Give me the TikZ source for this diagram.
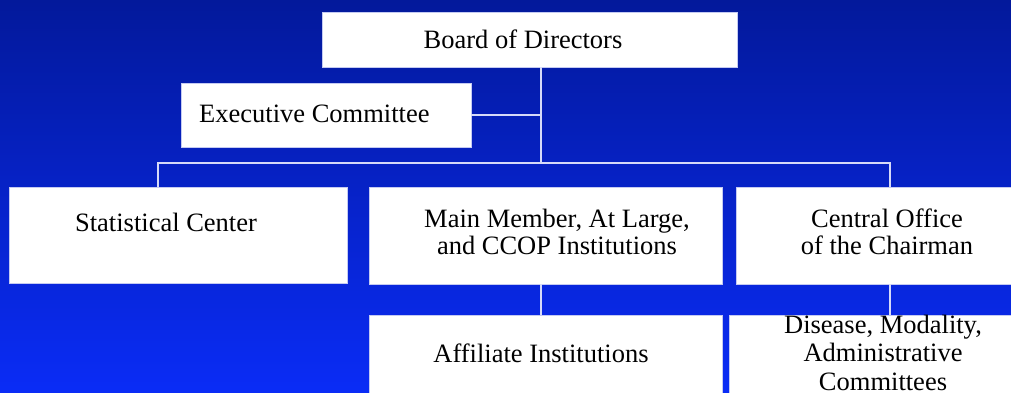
\documentclass[tikz,border=0pt]{standalone}
\usepackage{fontspec}
\setmainfont{Liberation Serif}
\definecolor{bgtop}{RGB}{3,25,155}
\definecolor{bgbot}{RGB}{10,44,246}
\definecolor{conn}{RGB}{214,218,248}
\definecolor{boxedge}{RGB}{196,202,242}
\begin{document}
\begin{tikzpicture}[x=1pt,y=-1pt,
  orgbox/.style={draw=boxedge,fill=white,line width=0.8pt,inner sep=0pt,rectangle},
  lbl/.style={inner sep=0pt,text=black,align=center,font=\fontsize{26.5}{27}\selectfont},
  link/.style={draw=conn,line width=1.3pt}]
\useasboundingbox (0,0) rectangle (1011,392);
\shade[top color=bgtop,bottom color=bgbot] (0,0) rectangle (1011,392);
\clip (0,0) rectangle (1011,392);
% boxes
\node[orgbox,minimum width=415pt,minimum height=55pt] (board) at (529.5,39.5) {};
\node[orgbox,minimum width=290pt,minimum height=64pt] (exec) at (326,115) {};
\node[orgbox,minimum width=338pt,minimum height=96pt] (stat) at (178,235) {};
\node[orgbox,minimum width=353pt,minimum height=97pt] (main) at (545.5,235.5) {};
\node[orgbox,minimum width=284pt,minimum height=97pt] (central) at (878,235.5) {};
\node[orgbox,minimum width=353pt,minimum height=85pt] (affil) at (545.5,357.5) {};
\node[orgbox,minimum width=291pt,minimum height=85pt] (disease) at (874.5,357.5) {};
% texts
\node[lbl] (tboard) at (523,39) {Board of Directors};
\node[lbl,anchor=west] (texec) at (199,114) {Executive Committee};
\node[lbl] (tstat) at (166,222) {Statistical Center};
\node[lbl] (tmain) at (557,232) {Main Member, At Large,\\and CCOP Institutions};
\node[lbl] (tcentral) at (887,232) {Central Office\\of the Chairman};
\node[lbl] (taffil) at (541,353) {Affiliate Institutions};
\node[lbl,font=\fontsize{26.5}{28.5}\selectfont] (tdisease) at (883,352.5) {Disease, Modality,\\Administrative\\Committees};
% connectors
\coordinate (trunk) at (541,163);
\coordinate (busL) at (158,163);
\coordinate (busR) at (890,163);
\draw[link] (board.south -| trunk) -- (trunk);
\draw[link] (exec.east) -- (exec.east -| trunk);
\draw[link] (stat.north -| busL) -- (busL) -- (busR) -- (central.north -| busR);
\draw[link] (main.south -| trunk) -- (affil.north -| trunk);
\draw[link] (central.south -| busR) -- (disease.north -| busR);
\end{tikzpicture}
\end{document}
